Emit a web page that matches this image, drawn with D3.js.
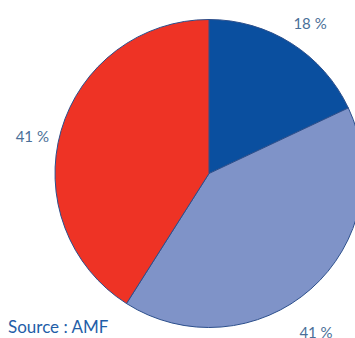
<!DOCTYPE html>
<html>
<head>
<meta charset="utf-8">
<script src="https://cdn.jsdelivr.net/npm/d3@7"></script>
<style>
  html, body { margin: 0; padding: 0; background: #fff; overflow: hidden; }
  svg { display: block; }
</style>
</head>
<body>
<svg id="chart" width="355" height="338"></svg>
<script>
// Share of each group, in percent, clockwise from 12 o'clock
const categories = ["A", "B", "C"];
const shares = [18, 41, 41];
const labels = ["18 %", "41 %", "41 %"];
const sourceText = "Source : AMF";

const colors = ["#0a4f9f", "#7f93c8", "#ee3325"];

const svg = d3.select("#chart");
const cx = 209, cy = 173.5, radius = 154;

const data = categories.map((c, i) => ({ name: c, value: shares[i], label: labels[i], color: colors[i] }));

const pie = d3.pie().value(d => d.value).sort(null);
const arc = d3.arc().innerRadius(0).outerRadius(radius);
const labelArc = d3.arc().innerRadius(183).outerRadius(183);

const g = svg.append("g").attr("transform", `translate(${cx},${cy})`);
const arcs = pie(data);

g.selectAll("path")
  .data(arcs)
  .join("path")
  .attr("d", arc)
  .attr("fill", d => d.data.color)
  .attr("stroke", "#2c4f8c")
  .attr("stroke-width", 1);

// small nudges so labels sit clear of the rim
const nudge = [[3, 10], [-14, 27], [-1, 20]];

g.selectAll("text.lbl")
  .data(arcs)
  .join("text")
  .attr("class", "lbl")
  .attr("x", (d, i) => labelArc.centroid(d)[0] + nudge[i][0])
  .attr("y", (d, i) => labelArc.centroid(d)[1] + nudge[i][1])
  .attr("text-anchor", "middle")
  .attr("font-family", "Lato, sans-serif")
  .attr("font-size", 15)
  .attr("fill", "#4a6f98")
  .text(d => d.data.label);

svg.append("text")
  .attr("x", 8)
  .attr("y", 333)
  .attr("font-family", "Lato, sans-serif")
  .attr("font-size", 17)
  .attr("fill", "#1f5ea8")
  .text(sourceText);
</script>
</body>
</html>
